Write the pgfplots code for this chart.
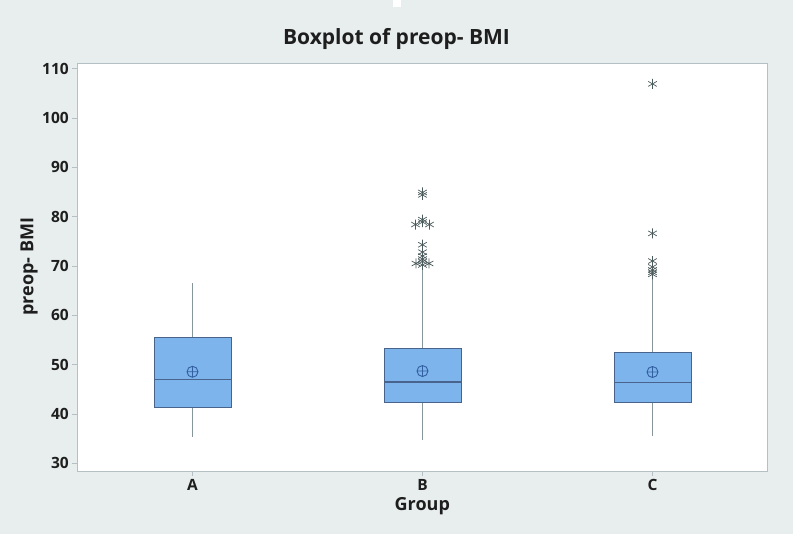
\documentclass[border=0pt]{standalone}
\usepackage{fontspec}
\setmainfont{Open Sans}
\usepackage{pgfplots}
\pgfplotsset{compat=1.18}
\usepgfplotslibrary{statistics}
\definecolor{bg}{RGB}{232,237,237}
\definecolor{boxfill}{RGB}{126,180,236}
\definecolor{boxedge}{RGB}{72,100,140}
\definecolor{whisk}{RGB}{135,150,155}
\definecolor{starc}{RGB}{75,90,92}
\definecolor{framec}{RGB}{180,192,196}
\definecolor{meanc}{RGB}{50,95,160}
\definecolor{txt}{RGB}{30,30,30}
\begin{document}
\begin{tikzpicture}[x=1pt,y=1pt]
\fill[bg] (0,0) rectangle (793,534);
\fill[white] (393,527) rectangle (401,534);
\node[font=\fontsize{21}{24}\selectfont\bfseries, text=txt] at (396.5,534-39) {Boxplot of preop- BMI};
\node[font=\fontsize{18}{20}\selectfont\bfseries, text=txt, rotate=90] at (29,534-266.5) {preop- BMI};
\node[font=\fontsize{18}{20}\selectfont\bfseries, text=txt] at (422.3,534-506) {Group};
\begin{axis}[
  at={(77.3pt,63pt)}, anchor=south west,
  scale only axis, width=690pt, height=408pt,
  xmin=77.3, xmax=767.3, ymin=28.44, ymax=111.14,
  axis background/.style={fill=white},
  axis line style={draw=framec, line width=0.8pt},
  tick pos=left, tick align=outside, major tick length=5pt,
  tick style={draw=framec, line width=0.8pt},
  ytick={30,40,...,110},
  xtick={192.5,422.5,652.5}, xticklabels={A,B,C},
  /pgf/number format/assume math mode=true,
  tick label style={font=\fontsize{15.5}{17}\selectfont\bfseries, text=txt},
  boxplot/draw direction=y,
  boxplot/whisker extend=0,
  boxplot/every box/.style={draw=boxedge, fill=boxfill, line width=0.9pt},
  boxplot/every whisker/.style={draw=whisk, line width=1.8pt},
  boxplot/every median/.style={draw=boxedge, line width=1.1pt},
  bp/.style={draw=whisk, line width=1.8pt},
]
\addplot[bp, boxplot prepared={draw position=192.5, box extend=77,
  lower whisker=35.39, lower quartile=41.34, median=47.07,
  upper quartile=55.44, upper whisker=66.58}] coordinates {};
\addplot[bp, boxplot prepared={draw position=422.5, box extend=77,
  lower whisker=34.72, lower quartile=42.27, median=46.47,
  upper quartile=53.29, upper whisker=69.8}] coordinates {};
\addplot[bp, boxplot prepared={draw position=652.5, box extend=77,
  lower whisker=35.5, lower quartile=42.4, median=46.3,
  upper quartile=52.4, upper whisker=67.7}] coordinates {};
% means
\addplot[only marks, mark=oplus, mark size=5.5pt,
  mark options={draw=meanc, fill=boxfill, line width=0.9pt}]
  coordinates {(192.5,48.55) (422.5,48.70) (652.5,48.5)};
% outliers
\addplot[only marks, mark=asterisk, mark size=5pt,
  mark options={draw=starc, line width=0.7pt}]
  coordinates {
  (422.5,84.9) (422.5,84.4) (422.5,79.4) (422.5,78.9) (415.5,78.4) (429.5,78.4)
  (422.5,74.3) (422.5,72.8) (422.5,72.0) (422.5,71.4) (422.5,70.9)
  (416,70.5) (429,70.5) (422.5,70.2)
  (652.5,106.9) (652.5,76.6) (652.5,71.0) (652.5,69.8) (652.5,69.2)
  (652.5,68.7) (652.5,68.3)
  };
\end{axis}
\end{tikzpicture}
\end{document}
